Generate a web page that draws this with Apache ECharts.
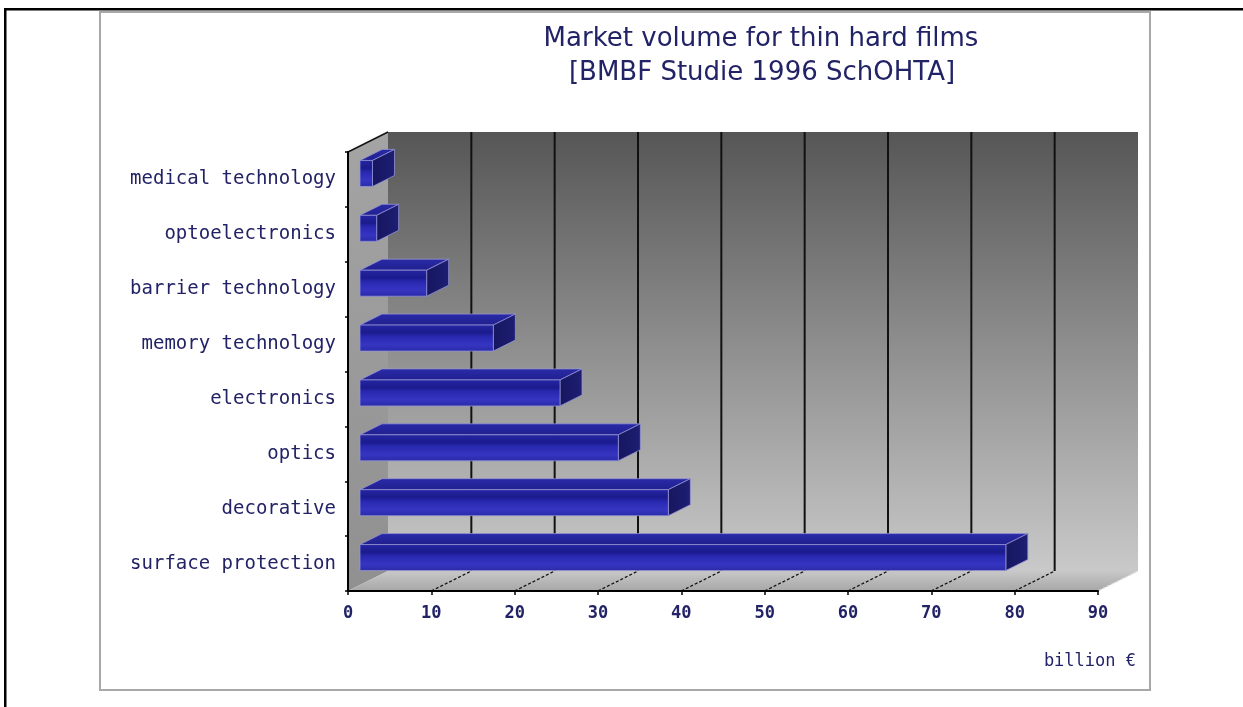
<!DOCTYPE html>
<html>
<head>
<meta charset="utf-8">
<script src="https://cdn.jsdelivr.net/npm/echarts@6/dist/echarts.min.js"></script>
<style>
  html, body { margin: 0; padding: 0; background: #ffffff; }
  #chart { width: 1243px; height: 707px; }
</style>
</head>
<body>
<div id="chart"></div>
<script>
// Market volume for thin hard films, billion €
const categories = [
  'medical technology',
  'optoelectronics',
  'barrier technology',
  'memory technology',
  'electronics',
  'optics',
  'decorative',
  'surface protection'
];
const volumes = [1.5, 2, 8, 16, 24, 31, 37, 77.5];
const xTicks = [0, 10, 20, 30, 40, 50, 60, 70, 80, 90];
const titleLines = ['Market volume for thin hard films', '[BMBF Studie 1996 SchOHTA]'];
const unitLabel = 'billion €';

const NAVY = '#222266';
const MONO = '"DejaVu Sans Mono", monospace';

// Pseudo-3D projection: depth of the walls and where a bar sits inside it
const WALL = [40, -20];
const BAR_FRONT = [12, -6];
const BAR_DEPTH = [22, -11];
const BAR_H = 26;

const LG = echarts.graphic.LinearGradient;

function renderFrame(params, api) {
  const cs = params.coordSys;
  const l = cs.x, t = cs.y, r = cs.x + cs.width, b = cs.y + cs.height;
  const dx = WALL[0], dy = WALL[1];
  const children = [];

  // back wall
  children.push({
    type: 'rect',
    shape: { x: l + dx, y: t + dy, width: cs.width, height: cs.height },
    style: { fill: new LG(0, 0, 0, 1, [
      { offset: 0, color: '#565656' },
      { offset: 1, color: '#c9c9c9' }
    ]) }
  });
  // left side wall
  children.push({
    type: 'polygon',
    shape: { points: [[l, t], [l + dx, t + dy], [l + dx, b + dy], [l, b]] },
    style: { fill: new LG(0, 0, 0, 1, [
      { offset: 0, color: '#a4a4a4' },
      { offset: 1, color: '#909090' }
    ]) }
  });
  // floor
  children.push({
    type: 'polygon',
    shape: { points: [[l, b], [r, b], [r + dx, b + dy], [l + dx, b + dy]] },
    style: { fill: new LG(0, 0, 0, 1, [
      { offset: 0, color: '#c8c8c8' },
      { offset: 1, color: '#a7a7a7' }
    ]) }
  });

  // value grid: vertical lines on the back wall, dashed lines across the floor
  xTicks.forEach(function (v, i) {
    if (i === 0 || i === xTicks.length - 1) return;
    const x = api.coord([v, 0])[0];
    children.push({
      type: 'line',
      shape: { x1: x + dx, y1: t + dy, x2: x + dx, y2: b + dy },
      style: { stroke: '#111111', lineWidth: 2 }
    });
    children.push({
      type: 'line',
      shape: { x1: x, y1: b, x2: x + dx, y2: b + dy },
      style: { stroke: '#111111', lineWidth: 1.3, lineDash: [3, 2] }
    });
  });

  // right edge of the floor
  children.push({
    type: 'line',
    shape: { x1: r, y1: b, x2: r + dx, y2: b + dy },
    style: { stroke: '#dddddd', lineWidth: 1.3, lineDash: [3, 2] }
  });
  // top edge of the left wall
  children.push({
    type: 'line',
    shape: { x1: l, y1: t, x2: l + dx, y2: t + dy },
    style: { stroke: '#111111', lineWidth: 1.5 }
  });

  return { type: 'group', children: children };
}

function renderBar(params, api) {
  const v = api.value(0), idx = api.value(1);
  const p0 = api.coord([0, idx]);
  const p1 = api.coord([v, idx]);
  const x0 = p0[0] + BAR_FRONT[0];
  const x1 = p1[0] + BAR_FRONT[0];
  const yc = p0[1] + BAR_FRONT[1];
  const y0 = yc - BAR_H / 2, y1 = yc + BAR_H / 2;
  const ddx = BAR_DEPTH[0], ddy = BAR_DEPTH[1];
  const edge = 'rgba(150,150,215,0.75)';

  return {
    type: 'group',
    children: [
      { // top face
        type: 'polygon',
        shape: { points: [[x0, y0], [x1, y0], [x1 + ddx, y0 + ddy], [x0 + ddx, y0 + ddy]] },
        style: { fill: new LG(0, 0, 0, 1, [
          { offset: 0, color: '#2a2aa8' },
          { offset: 1, color: '#20208f' }
        ]), stroke: edge, lineWidth: 1 }
      },
      { // end face
        type: 'polygon',
        shape: { points: [[x1, y0], [x1 + ddx, y0 + ddy], [x1 + ddx, y1 + ddy], [x1, y1]] },
        style: { fill: new LG(0, 0, 1, 0, [
          { offset: 0, color: '#16165f' },
          { offset: 1, color: '#1e1e74' }
        ]), stroke: edge, lineWidth: 1 }
      },
      { // front face
        type: 'rect',
        shape: { x: x0, y: y0, width: Math.max(x1 - x0, 0), height: y1 - y0 },
        style: { fill: new LG(0, 0, 0, 1, [
          { offset: 0, color: '#2626a4' },
          { offset: 0.3, color: '#1b1b8e' },
          { offset: 0.45, color: '#2828b0' },
          { offset: 0.75, color: '#3535c2' },
          { offset: 1, color: '#2a2aa8' }
        ]), stroke: edge, lineWidth: 1 }
      }
    ]
  };
}

const chart = echarts.init(document.getElementById('chart'), null, { renderer: 'canvas' });

chart.setOption({
  backgroundColor: '#ffffff',
  animation: false,
  grid: { left: 348, top: 152, width: 750, height: 439, containLabel: false },
  xAxis: {
    type: 'value',
    min: xTicks[0],
    max: xTicks[xTicks.length - 1],
    interval: 10,
    z: 5,
    axisLine: { show: true, lineStyle: { color: '#000000', width: 2 } },
    axisTick: { show: true, length: 4, lineStyle: { color: '#000000', width: 1.5 } },
    splitLine: { show: false },
    axisLabel: {
      color: NAVY, fontFamily: MONO, fontWeight: 'bold', fontSize: 17,
      lineHeight: 17, margin: 14
    }
  },
  yAxis: {
    type: 'category',
    data: categories,
    inverse: true,
    z: 5,
    axisLine: { show: true, lineStyle: { color: '#000000', width: 2 } },
    axisTick: { show: true, length: 3, lineStyle: { color: '#000000', width: 1.5 } },
    splitLine: { show: false },
    axisLabel: { color: NAVY, fontFamily: MONO, fontSize: 19, margin: 12 }
  },
  series: [
    {
      type: 'custom',
      name: 'frame',
      silent: true,
      z: 1,
      renderItem: renderFrame,
      encode: { x: 0, y: 1 },
      data: [[xTicks[0], 0]]
    },
    {
      type: 'custom',
      name: 'volume',
      z: 3,
      renderItem: renderBar,
      encode: { x: 0, y: 1 },
      data: volumes.map(function (v, i) { return [v, i]; })
    }
  ],
  graphic: [
    { type: 'rect', z: -10, silent: true,
      shape: { x: 100, y: 12, width: 1050, height: 678 },
      style: { fill: '#ffffff', stroke: '#a8a8a8', lineWidth: 2 } },
    { type: 'rect', z: 20, silent: true,
      shape: { x: 4, y: 8, width: 1239, height: 2.5 },
      style: { fill: '#000000' } },
    { type: 'rect', z: 20, silent: true,
      shape: { x: 4, y: 8, width: 2.5, height: 699 },
      style: { fill: '#000000' } },
    { type: 'text', z: 20, silent: true, x: 761, y: 39.5,
      style: { text: titleLines[0], fill: NAVY, font: '26px "DejaVu Sans", sans-serif',
               textAlign: 'center', textVerticalAlign: 'middle' } },
    { type: 'text', z: 20, silent: true, x: 762, y: 73.5,
      style: { text: titleLines[1], fill: NAVY, font: '26px "DejaVu Sans", sans-serif',
               textAlign: 'center', textVerticalAlign: 'middle' } },
    { type: 'text', z: 20, silent: true, x: 1136, y: 662,
      style: { text: unitLabel, fill: NAVY, font: '17px "DejaVu Sans Mono", monospace',
               textAlign: 'right', textVerticalAlign: 'middle' } }
  ]
});
</script>
</body>
</html>
